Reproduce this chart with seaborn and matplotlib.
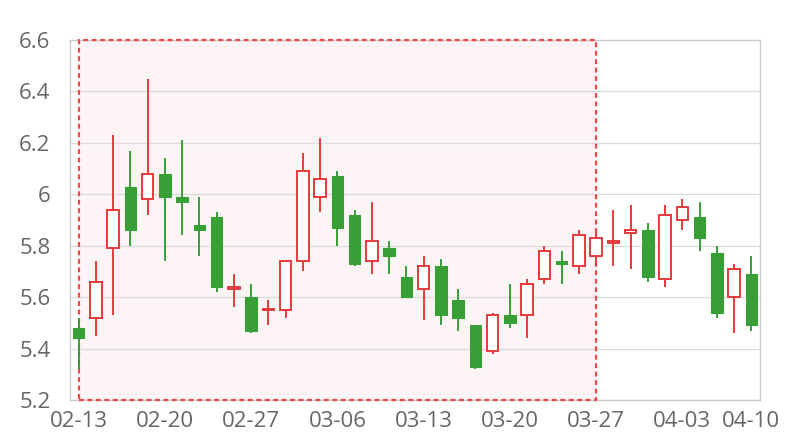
import pandas as pd
import matplotlib
matplotlib.use("Agg")
import matplotlib.pyplot as plt
import seaborn as sns

# Daily candles (trading days, 04-04 is a holiday)
dates = [
    "02-13", "02-14", "02-15", "02-16", "02-17",
    "02-20", "02-21", "02-22", "02-23", "02-24",
    "02-27", "02-28", "03-01", "03-02", "03-03",
    "03-06", "03-07", "03-08", "03-09", "03-10",
    "03-13", "03-14", "03-15", "03-16", "03-17",
    "03-20", "03-21", "03-22", "03-23", "03-24",
    "03-27", "03-28", "03-29", "03-30", "03-31",
    "04-03", "04-05", "04-06", "04-07", "04-10",
]
open_ = [5.48, 5.52, 5.79, 6.03, 5.98, 6.08, 5.99, 5.88, 5.91, 5.63,
         5.60, 5.55, 5.55, 5.74, 5.99, 6.07, 5.92, 5.74, 5.79, 5.68,
         5.63, 5.72, 5.59, 5.49, 5.39, 5.53, 5.53, 5.67, 5.74, 5.72,
         5.76, 5.81, 5.85, 5.86, 5.67, 5.90, 5.91, 5.77, 5.60, 5.69]
close = [5.44, 5.66, 5.94, 5.86, 6.08, 5.99, 5.97, 5.86, 5.64, 5.64,
         5.47, 5.553, 5.74, 6.09, 6.06, 5.87, 5.73, 5.82, 5.76, 5.60,
         5.72, 5.53, 5.52, 5.33, 5.53, 5.50, 5.65, 5.78, 5.73, 5.84,
         5.83, 5.82, 5.86, 5.68, 5.92, 5.95, 5.83, 5.54, 5.71, 5.49]
high = [5.52, 5.74, 6.23, 6.17, 6.45, 6.14, 6.21, 5.99, 5.93, 5.69,
        5.65, 5.59, 5.74, 6.16, 6.22, 6.09, 5.94, 5.97, 5.82, 5.72,
        5.76, 5.75, 5.63, 5.49, 5.54, 5.65, 5.67, 5.80, 5.78, 5.86,
        5.85, 5.94, 5.96, 5.89, 5.96, 5.98, 5.97, 5.80, 5.73, 5.76]
low = [5.32, 5.45, 5.53, 5.80, 5.92, 5.74, 5.84, 5.76, 5.62, 5.56,
       5.46, 5.49, 5.52, 5.70, 5.93, 5.80, 5.72, 5.69, 5.69, 5.60,
       5.51, 5.49, 5.47, 5.32, 5.38, 5.48, 5.44, 5.65, 5.65, 5.69,
       5.72, 5.72, 5.71, 5.66, 5.64, 5.86, 5.78, 5.52, 5.46, 5.47]

highlight = ("02-13", "03-27")
y_ticks = [5.2, 5.4, 5.6, 5.8, 6.0, 6.2, 6.4, 6.6]

df = pd.DataFrame({"date": dates, "open": open_, "close": close,
                   "high": high, "low": low})
df["x"] = range(len(df))
df["up"] = df["close"] >= df["open"]

UP = "#e8393b"
DOWN = "#389e36"

sns.set_theme(style="white")
plt.rcParams["font.family"] = ["Open Sans", "DejaVu Sans"]

fig = plt.figure(figsize=(8, 4.4), dpi=100)
ax = fig.add_axes([70 / 800, 1 - 400 / 440, 690 / 800, 360 / 440])

# highlighted range: pale fill below the grid, dashed border above the spines
x0 = dates.index(highlight[0])
x1 = dates.index(highlight[1])
ax.axvspan(x0, x1, facecolor="#fdf5f5", edgecolor="none", zorder=0.5)
border = ax.axvspan(x0, x1, facecolor="none", edgecolor="#f0474a",
                    linewidth=1.6, linestyle=(0, (2.2, 1.6)), zorder=2.7)
border.set_clip_on(False)

# wicks
for up, color in [(True, UP), (False, DOWN)]:
    sub = df[df["up"] == up]
    ax.vlines(sub["x"], sub["low"], sub["high"], color=color,
              linewidth=1.4, zorder=2.8)

width = 0.68
up_df = df[df["up"]]
dn_df = df[~df["up"]]
ax.bar(up_df["x"], up_df["close"] - up_df["open"], bottom=up_df["open"],
       width=width, facecolor="white", edgecolor=UP, linewidth=1.4, zorder=3)
ax.bar(dn_df["x"], dn_df["open"] - dn_df["close"], bottom=dn_df["close"],
       width=width, facecolor=DOWN, edgecolor=DOWN, linewidth=0.8, zorder=3)

ax.set_xlim(-0.5, len(dates) - 0.5)
ax.set_ylim(5.2, 6.6)
ax.set_yticks(y_ticks)
ax.set_yticklabels([f"{v:g}" for v in y_ticks])
tick_idx = list(range(0, len(dates), 5)) + [len(dates) - 1]
ax.set_xticks(tick_idx)
ax.set_xticklabels([dates[i] for i in tick_idx])

ax.grid(axis="y", color="#dcdcdc", linewidth=1)
ax.set_axisbelow(True)
for s in ax.spines.values():
    s.set_color("#cccccc")
    s.set_linewidth(1)
ax.tick_params(axis="both", length=0, labelsize=16, colors="#666666")
ax.tick_params(axis="x", pad=8)
ax.tick_params(axis="y", pad=14)

fig.savefig("out.png", dpi=100)
